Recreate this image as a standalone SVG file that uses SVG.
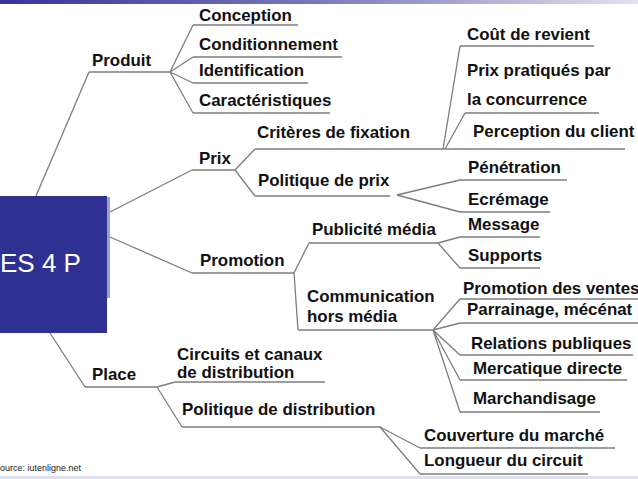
<svg xmlns="http://www.w3.org/2000/svg" width="638" height="479" viewBox="0 0 638 479">
<defs>
<linearGradient id="band" x1="0" y1="0" x2="1" y2="0">
<stop offset="0" stop-color="#34349a"/>
<stop offset="0.5" stop-color="#7a7ab8"/>
<stop offset="1" stop-color="#e2e2f0"/>
</linearGradient>
</defs>
<style>
text{font-family:"Liberation Sans",Arial,sans-serif;font-weight:bold;font-size:16.9px;fill:#111}
.u{stroke:#7d7d7d;stroke-width:1.5;fill:none}
#connectors path{stroke:#7d7d7d;stroke-width:1.3;fill:none}
</style>
<rect x="0" y="0" width="638" height="479" fill="#fff"/>
<rect x="0" y="0" width="638" height="4" fill="url(#band)"/>
<rect x="0" y="476" width="638" height="3" fill="#dfe2ec"/>

<g id="connectors">
<path d="M36,196 L89,72"/>
<path d="M110,212 L192,170"/>
<path d="M110,237 L192,273"/>
<path d="M50,333 L85,387"/>
<path d="M170,72 L193,25 M170,72 L193,57 M170,72 L193,83 M170,72 L193,113"/>
<path d="M235,170 L255,149 M235,170 L255,196"/>
<path d="M443,149 L460,46 M445,149 L465,113"/>
<path d="M397,195 L460,180 M397,195 L460,212"/>
<path d="M294,273 L309,243 M294,273 L298,330"/>
<path d="M438,243 L460,237 M438,243 L460,268"/>
<path d="M433,330 L460,299 M433,330 L460,323 M433,330 L460,355 M433,330 L460,380 M433,330 L460,412"/>
<path d="M157,387 L175,382 M157,387 L182,427"/>
<path d="M380,427 L420,448 M380,427 L420,474"/>
</g>

<g id="root">
<rect x="107" y="197" width="3" height="101" fill="#9a9ed0"/>
<rect x="-2" y="196" width="109" height="137" fill="#2e3192"/>
<text x="0" y="272" style="font-weight:normal;font-size:26px;fill:#fff">ES 4 P</text>
</g>

<g id="produit"><path class="u" d="M89,72 H170"/><text x="92" y="66">Produit</text></g>
<g id="conception"><path class="u" d="M193,25 H298"/><text x="199" y="21">Conception</text></g>
<g id="conditionnement"><path class="u" d="M193,57 H342"/><text x="199" y="50">Conditionnement</text></g>
<g id="identification"><path class="u" d="M193,83 H308"/><text x="199" y="76">Identification</text></g>
<g id="caracteristiques"><path class="u" d="M193,113 H330"/><text x="199" y="106">Caractéristiques</text></g>

<g id="prix"><path class="u" d="M192,170 H235"/><text x="199" y="164">Prix</text></g>
<g id="criteres"><path class="u" d="M255,149 H625"/><text x="257" y="138">Critères de fixation</text></g>
<g id="cout"><path class="u" d="M460,46 H594"/><text x="467" y="40">Coût de revient</text></g>
<g id="concurrence"><path class="u" d="M465,113 H599"/><text x="467" y="76">Prix pratiqués par</text><text x="467" y="105">la concurrence</text></g>
<g id="perception"><text x="473" y="137">Perception du client</text></g>
<g id="politique-prix"><path class="u" d="M255,196 H390"/><text x="258" y="186">Politique de prix</text></g>
<g id="penetration"><path class="u" d="M460,180 H567"/><text x="468" y="173">Pénétration</text></g>
<g id="ecremage"><path class="u" d="M460,212 H550"/><text x="468" y="205">Ecrémage</text></g>

<g id="promotion"><path class="u" d="M192,273 H294"/><text x="200" y="266">Promotion</text></g>
<g id="publicite"><path class="u" d="M309,243 H438"/><text x="312" y="235">Publicité média</text></g>
<g id="message"><path class="u" d="M460,237 H540"/><text x="468" y="230">Message</text></g>
<g id="supports"><path class="u" d="M460,268 H540"/><text x="468" y="261">Supports</text></g>
<g id="communication"><path class="u" d="M298,330 H433"/><text x="307" y="302">Communication</text><text x="307" y="322">hors média</text></g>
<g id="promo-ventes"><path class="u" d="M460,299 H638"/><text x="463" y="294">Promotion des ventes</text></g>
<g id="parrainage"><path class="u" d="M460,323 H638"/><text x="467" y="315">Parrainage, mécénat</text></g>
<g id="relations"><path class="u" d="M460,355 H633"/><text x="471" y="349">Relations publiques</text></g>
<g id="mercatique"><path class="u" d="M460,380 H627"/><text x="473" y="374">Mercatique directe</text></g>
<g id="marchandisage"><path class="u" d="M460,412 H600"/><text x="473" y="404">Marchandisage</text></g>

<g id="place"><path class="u" d="M85,387 H157"/><text x="92" y="380">Place</text></g>
<g id="circuits"><path class="u" d="M175,382 H325"/><text x="177" y="360">Circuits et canaux</text><text x="177" y="378">de distribution</text></g>
<g id="politique-distribution"><path class="u" d="M182,427 H380"/><text x="182" y="415">Politique de distribution</text></g>
<g id="couverture"><path class="u" d="M420,448 H615"/><text x="424" y="441">Couverture du marché</text></g>
<g id="longueur"><path class="u" d="M420,474 H588"/><text x="424" y="466">Longueur du circuit</text></g>

<g id="source"><text x="0" y="471" style="font-weight:normal;font-size:9px;fill:#222">ource: iutenligne.net</text></g>
</svg>
